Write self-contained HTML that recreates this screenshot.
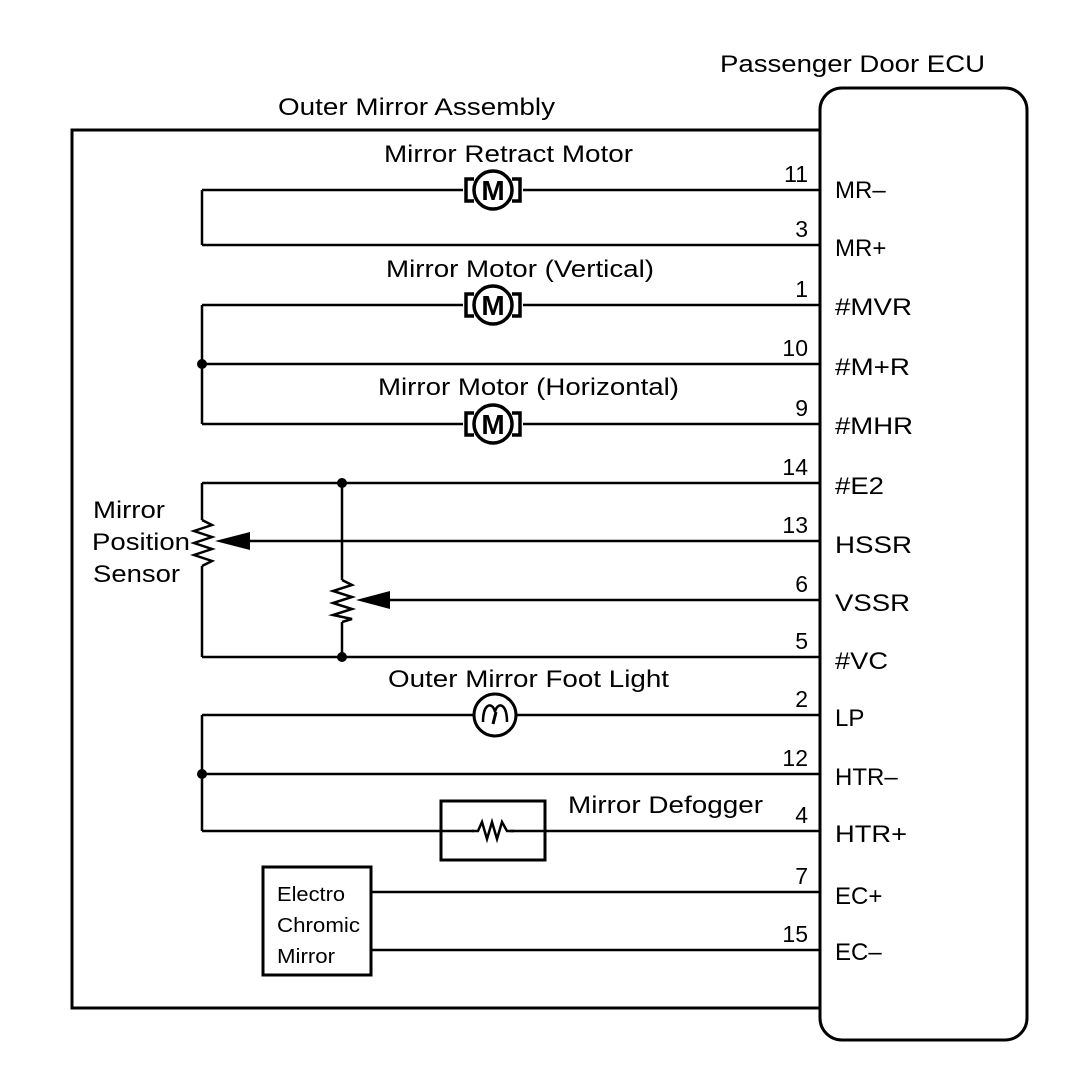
<!DOCTYPE html>
<html><head><meta charset="utf-8"><style>
html,body{margin:0;padding:0;background:#fff;width:1088px;height:1068px;overflow:hidden}
svg{display:block}
text{font-family:"Liberation Sans",sans-serif;fill:#000}
</style></head><body>
<svg width="1088" height="1068" viewBox="0 0 1088 1068" xmlns="http://www.w3.org/2000/svg">
<g stroke="#000" fill="none" stroke-width="3">
<polyline points="820,130 72,130 72,1008 820,1008"/>
<rect x="820" y="88" width="207" height="952" rx="22" ry="22"/>
</g>
<g stroke="#000" fill="none" stroke-width="2.5">
<line x1="202" y1="190" x2="820" y2="190"/>
<line x1="202" y1="245" x2="820" y2="245"/>
<line x1="202" y1="190" x2="202" y2="245"/>
<line x1="202" y1="305" x2="820" y2="305"/>
<line x1="202" y1="364" x2="820" y2="364"/>
<line x1="202" y1="424" x2="820" y2="424"/>
<line x1="202" y1="305" x2="202" y2="424"/>
<line x1="202" y1="483" x2="820" y2="483"/>
<line x1="202" y1="657" x2="820" y2="657"/>
<line x1="202" y1="483" x2="202" y2="520"/>
<line x1="202" y1="566" x2="202" y2="657"/>
<polyline points="202,520 212,525 194,531 212,537 194,543 212,549 194,555 212,561 202,566"/>
<line x1="250" y1="541" x2="820" y2="541"/>
<line x1="342" y1="483" x2="342" y2="580"/>
<line x1="342" y1="622" x2="342" y2="657"/>
<polyline points="342,580 352,585 333,591 352,597 333,603 352,609 333,615 352,619 342,622"/>
<line x1="388" y1="600" x2="820" y2="600"/>
<line x1="202" y1="715" x2="820" y2="715"/>
<line x1="202" y1="774" x2="820" y2="774"/>
<line x1="202" y1="831" x2="820" y2="831"/>
<line x1="202" y1="715" x2="202" y2="831"/>
<line x1="371" y1="892" x2="820" y2="892"/>
<line x1="371" y1="950" x2="820" y2="950"/>
</g>
<polygon points="215,541 250,532 250,550" fill="#000"/>
<polygon points="356,600 390,591 390,609" fill="#000"/>
<g fill="#000">
<circle cx="202" cy="364" r="5"/>
<circle cx="342" cy="483" r="5"/>
<circle cx="342" cy="657" r="5"/>
<circle cx="202" cy="774" r="5"/>
</g>
<defs>
<g id="motor">
<rect x="-30" y="-12" width="60" height="24" fill="#fff" stroke="none"/>
<path d="M-19,-11 h-8 v22 h8 M19,-11 h8 v22 h-8" stroke="#000" stroke-width="3.5" fill="none"/>
<circle r="19" fill="#fff" stroke="#000" stroke-width="3.5"/>
<text x="0" y="10" text-anchor="middle" font-size="28" font-weight="bold">M</text>
</g>
</defs>
<use href="#motor" x="493" y="190"/>
<use href="#motor" x="493" y="305"/>
<use href="#motor" x="493" y="424"/>
<circle cx="495" cy="715" r="21" fill="#fff" stroke="#000" stroke-width="3"/>
<path d="M483,722 C483,702 493,702 495,712 C497,702 507,702 507,722" stroke="#000" stroke-width="2.5" fill="none"/>
<path d="M496,712 L493,724" stroke="#000" stroke-width="3"/>
<rect x="441" y="801" width="104" height="59" fill="#fff" stroke="#000" stroke-width="3"/>
<line x1="441" y1="831" x2="545" y2="831" stroke="#000" stroke-width="2.5"/>
<rect x="474" y="820" width="36" height="22" fill="#fff"/>
<polyline points="472,831 478,831 482,822 487,839 492,822 497,839 502,822 507,831 514,831" stroke="#000" stroke-width="2.5" fill="none"/>
<rect x="263" y="867" width="108" height="108" fill="#fff" stroke="#000" stroke-width="3"/>
<g font-size="20">
<text x="277" y="901" textLength="68" lengthAdjust="spacingAndGlyphs">Electro</text>
<text x="277" y="932" textLength="83" lengthAdjust="spacingAndGlyphs">Chromic</text>
<text x="277" y="963" textLength="58" lengthAdjust="spacingAndGlyphs">Mirror</text>
</g>
<g font-size="24">
<text x="720" y="72" textLength="265" lengthAdjust="spacingAndGlyphs">Passenger Door ECU</text>
<text x="278" y="115" textLength="277" lengthAdjust="spacingAndGlyphs">Outer Mirror Assembly</text>
<text x="384" y="162" textLength="249" lengthAdjust="spacingAndGlyphs">Mirror Retract Motor</text>
<text x="386" y="277" textLength="268" lengthAdjust="spacingAndGlyphs">Mirror Motor (Vertical)</text>
<text x="378" y="395" textLength="301" lengthAdjust="spacingAndGlyphs">Mirror Motor (Horizontal)</text>
<text x="388" y="687" textLength="281" lengthAdjust="spacingAndGlyphs">Outer Mirror Foot Light</text>
<text x="568" y="813" textLength="195" lengthAdjust="spacingAndGlyphs">Mirror Defogger</text>
<text x="93" y="518" textLength="72" lengthAdjust="spacingAndGlyphs">Mirror</text>
<text x="92" y="550" textLength="98" lengthAdjust="spacingAndGlyphs">Position</text>
<text x="93" y="582" textLength="87" lengthAdjust="spacingAndGlyphs">Sensor</text>
</g>
<g font-size="23" text-anchor="end">
<text x="808" y="182">11</text>
<text x="808" y="237">3</text>
<text x="808" y="297">1</text>
<text x="808" y="356">10</text>
<text x="808" y="416">9</text>
<text x="808" y="475">14</text>
<text x="808" y="533">13</text>
<text x="808" y="592">6</text>
<text x="808" y="649">5</text>
<text x="808" y="707">2</text>
<text x="808" y="766">12</text>
<text x="808" y="823">4</text>
<text x="808" y="884">7</text>
<text x="808" y="942">15</text>
</g>
<g font-size="24">
<text x="835" y="198">MR–</text>
<text x="835" y="256">MR+</text>
<text x="835" y="315" textLength="77" lengthAdjust="spacingAndGlyphs">#MVR</text>
<text x="835" y="375" textLength="75" lengthAdjust="spacingAndGlyphs">#M+R</text>
<text x="835" y="434" textLength="78" lengthAdjust="spacingAndGlyphs">#MHR</text>
<text x="835" y="494" textLength="49" lengthAdjust="spacingAndGlyphs">#E2</text>
<text x="835" y="553" textLength="77" lengthAdjust="spacingAndGlyphs">HSSR</text>
<text x="835" y="611" textLength="75" lengthAdjust="spacingAndGlyphs">VSSR</text>
<text x="835" y="669" textLength="53" lengthAdjust="spacingAndGlyphs">#VC</text>
<text x="835" y="726">LP</text>
<text x="835" y="785">HTR–</text>
<text x="835" y="842" textLength="72" lengthAdjust="spacingAndGlyphs">HTR+</text>
<text x="835" y="904">EC+</text>
<text x="835" y="960">EC–</text>
</g>
</svg>
</body></html>
